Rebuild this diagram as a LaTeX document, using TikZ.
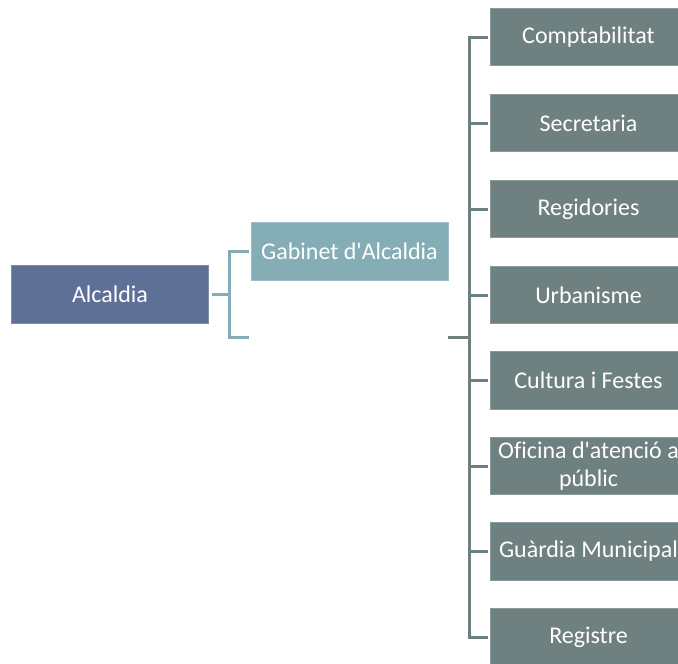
\documentclass[tikz,border=0pt]{standalone}
\usepackage{fontspec}
\setmainfont{Carlito}[Ligatures=NoCommon]
\definecolor{alcfill}{RGB}{94,112,150}
\definecolor{gabfill}{RGB}{132,173,181}
\definecolor{depfill}{RGB}{111,128,128}
\begin{document}
\begin{tikzpicture}[x=1pt,y=-1pt,
  box/.style={minimum width=197pt, minimum height=57.5pt, inner sep=0pt, text=white,
    font=\fontsize{24}{28}\selectfont, align=center},
  alcbox/.style={box, fill=alcfill, draw=alcfill!80!white, line width=0.6pt},
  gabbox/.style={box, fill=gabfill, draw=gabfill!80!white, line width=0.6pt},
  depbox/.style={box, fill=depfill, draw=depfill!80!white, line width=0.6pt},
  lconn/.style={draw=gabfill, line width=3pt},
  rconn/.style={draw=depfill, line width=3pt}]
\useasboundingbox (0,0) rectangle (678,664);
\clip (0,0) rectangle (678,664);
\node[alcbox] (alc) at (110,294.5) {Alcaldia};
\node[gabbox] (gab) at (349.5,251.5) {Gabinet d\textquotesingle Alcaldia};
\node[box] (inv) at (349.5,337.5) {};
\coordinate (lj) at (229,294.5);
\draw[lconn, shorten <=3pt] (alc.east) -- (lj);
\draw[lconn, shorten <=2pt, shorten >=2pt] (gab.west) -| (lj) |- (inv.west);
\node[depbox] (d1) at (588.5,37) {Comptabilitat};
\node[depbox] (d2) at (588.5,123) {Secretaria};
\node[depbox] (d3) at (588.5,209) {Regidories};
\node[depbox] (d4) at (588.5,295) {Urbanisme};
\node[depbox] (d5) at (588.5,380.5) {Cultura i Festes};
\node[depbox] (d6) at (588.5,466) {Oficina d\textquotesingle atenció a\\públic};
\node[depbox] (d7) at (588.5,551.5) {Guàrdia Municipal};
\node[depbox] (d8) at (588.5,637) {Registre};
\coordinate (rj) at (469,337.5);
\draw[rconn] (inv.east) -- (rj);
\foreach \n in {d1,d2,d3,d4,d5,d6,d7,d8}
  \draw[rconn, shorten >=2pt] (rj) |- (\n.west);
\end{tikzpicture}
\end{document}
